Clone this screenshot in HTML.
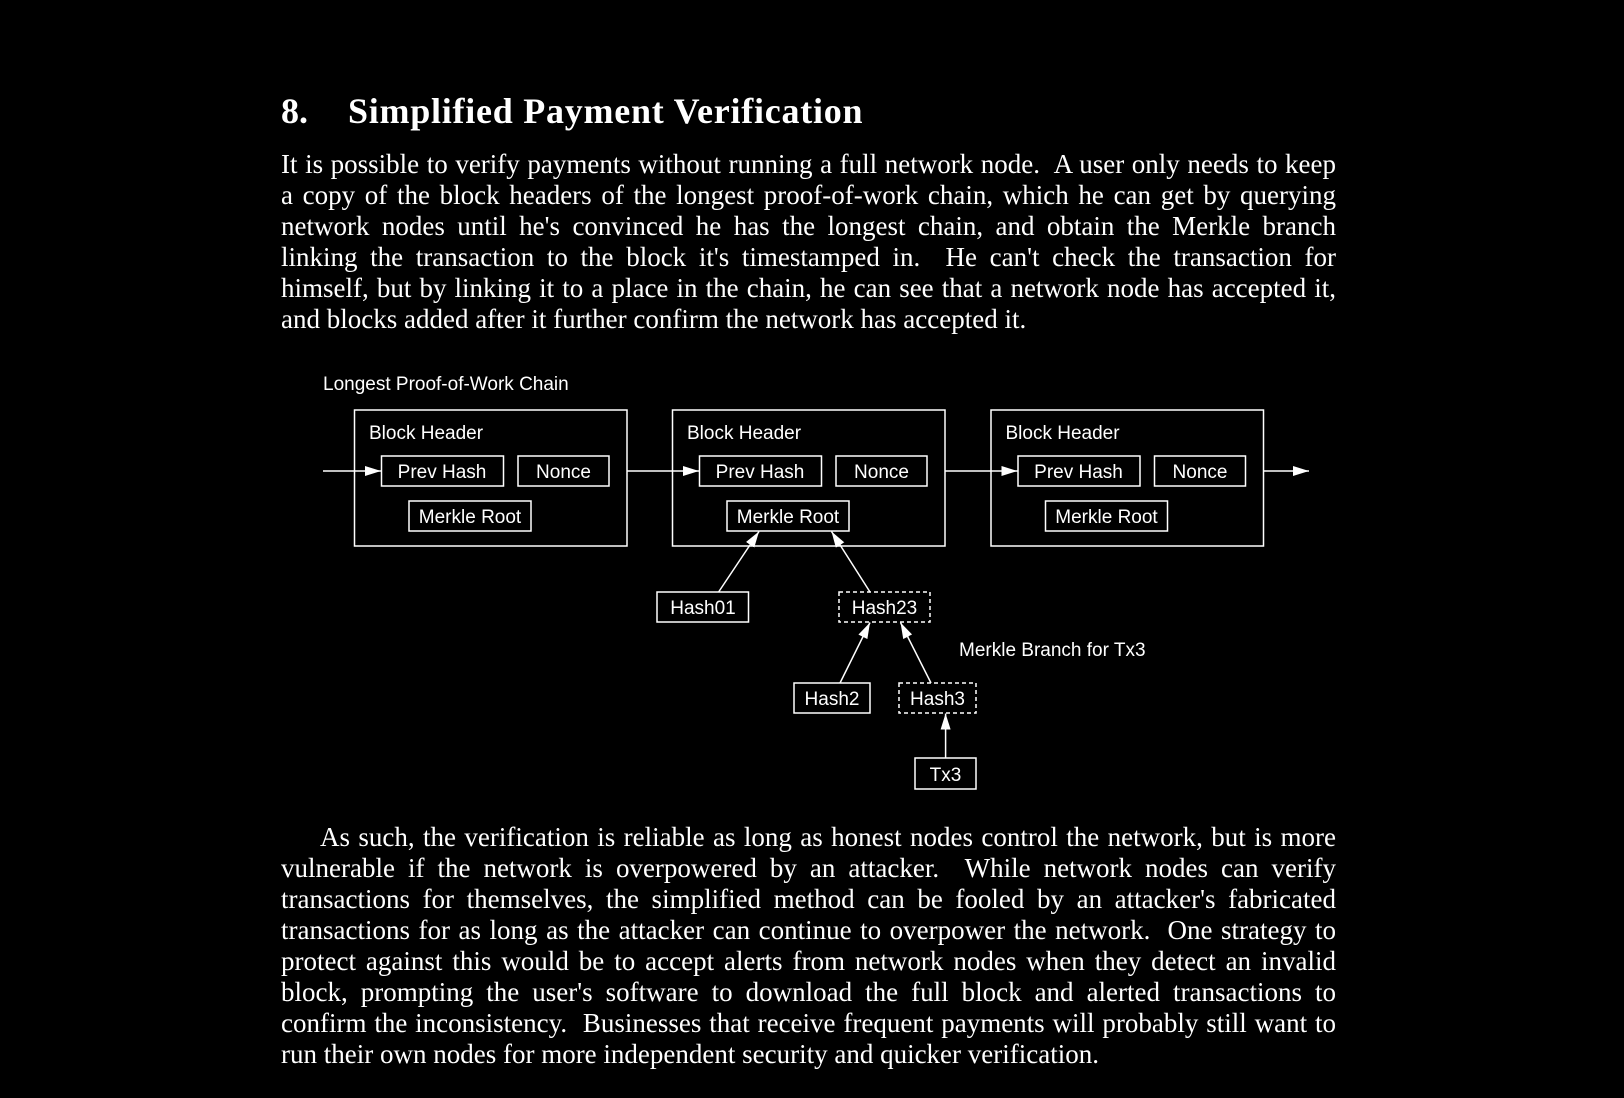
<!DOCTYPE html>
<html><head><meta charset="utf-8"><style>
html,body{margin:0;padding:0;background:#000;}
body{width:1624px;height:1098px;position:relative;overflow:hidden;color:#fff;font-family:"Liberation Serif",serif;}
.t{position:absolute;left:281px;top:91px;font-size:36px;font-weight:bold;white-space:nowrap;line-height:40px;}
.l{position:absolute;left:281px;width:1055px;font-size:27px;line-height:31px;white-space:nowrap;text-align:justify;text-align-last:justify;}
.l.e{text-align-last:left;}
svg{position:absolute;left:0;top:0;}
svg text{font-family:"Liberation Sans",sans-serif;fill:#fff;font-size:19px;}
</style></head><body>
<div class="t">8.<span style="position:absolute;left:67px;letter-spacing:0.75px">Simplified Payment Verification</span></div>
<div class="l" style="top:149px">It is possible to verify payments without running a full network node.&nbsp; A user only needs to keep</div>
<div class="l" style="top:180px">a copy of the block headers of the longest proof-of-work chain, which he can get by querying</div>
<div class="l" style="top:211px">network nodes until he's convinced he has the longest chain, and obtain the Merkle branch</div>
<div class="l" style="top:242px">linking the transaction to the block it's timestamped in.&nbsp; He can't check the transaction for</div>
<div class="l" style="top:273px">himself, but by linking it to a place in the chain, he can see that a network node has accepted it,</div>
<div class="l e" style="top:304px">and blocks added after it further confirm the network has accepted it.</div>

<div class="l" style="top:822px;left:320px;width:1016px">As such, the verification is reliable as long as honest nodes control the network, but is more</div>
<div class="l" style="top:853px">vulnerable if the network is overpowered by an attacker.&nbsp; While network nodes can verify</div>
<div class="l" style="top:884px">transactions for themselves, the simplified method can be fooled by an attacker's fabricated</div>
<div class="l" style="top:915px">transactions for as long as the attacker can continue to overpower the network.&nbsp; One strategy to</div>
<div class="l" style="top:946px">protect against this would be to accept alerts from network nodes when they detect an invalid</div>
<div class="l" style="top:977px">block, prompting the user's software to download the full block and alerted transactions to</div>
<div class="l" style="top:1008px">confirm the inconsistency.&nbsp; Businesses that receive frequent payments will probably still want to</div>
<div class="l e" style="top:1039px">run their own nodes for more independent security and quicker verification.</div>

<svg width="1624" height="1098" viewBox="0 0 1624 1098">
<defs><marker id="a" markerWidth="16" markerHeight="10" refX="16" refY="5" orient="auto" markerUnits="userSpaceOnUse"><path d="M0,0 L16,5 L0,10 Z" fill="#fff"/></marker></defs>
<g stroke="#fff" stroke-width="1.5" fill="none">
<g id="b1">
<rect x="354.5" y="410" width="272.5" height="136"/>
<rect x="381.5" y="456" width="122" height="30"/>
<rect x="518" y="456" width="91" height="30"/>
<rect x="409" y="501" width="122" height="30"/>
</g>
<use href="#b1" x="318"/>
<use href="#b1" x="636.5"/>
<line x1="323" y1="471" x2="381" y2="471" marker-end="url(#a)"/>
<line x1="627" y1="471" x2="699" y2="471" marker-end="url(#a)"/>
<line x1="945.5" y1="471" x2="1017.5" y2="471" marker-end="url(#a)"/>
<line x1="1264" y1="471" x2="1309" y2="471" marker-end="url(#a)"/>
<rect x="657" y="592" width="91.5" height="30"/>
<rect x="839" y="592" width="91" height="30" stroke-dasharray="4,3"/>
<rect x="794" y="683" width="76" height="30"/>
<rect x="899" y="683" width="77" height="30" stroke-dasharray="4,3"/>
<rect x="915" y="758" width="61" height="31"/>
<line x1="718.6" y1="592" x2="759" y2="531.5" marker-end="url(#a)"/>
<line x1="870" y1="592" x2="831.5" y2="531.5" marker-end="url(#a)"/>
<line x1="840" y1="683" x2="870" y2="622.5" marker-end="url(#a)"/>
<line x1="931" y1="683" x2="900.5" y2="622.5" marker-end="url(#a)"/>
<line x1="945.6" y1="758" x2="945.6" y2="713.5" marker-end="url(#a)"/>
</g>
<text x="323" y="390">Longest Proof-of-Work Chain</text>
<g id="t1">
<text x="369" y="439">Block Header</text>
<text x="442" y="478" text-anchor="middle">Prev Hash</text>
<text x="563.5" y="478" text-anchor="middle">Nonce</text>
<text x="470" y="523" text-anchor="middle">Merkle Root</text>
</g>
<use href="#t1" x="318"/>
<use href="#t1" x="636.5"/>
<text x="703" y="614" text-anchor="middle">Hash01</text>
<text x="884.5" y="614" text-anchor="middle">Hash23</text>
<text x="832" y="705" text-anchor="middle">Hash2</text>
<text x="937.5" y="705" text-anchor="middle">Hash3</text>
<text x="945.5" y="781" text-anchor="middle">Tx3</text>
<text x="959" y="656">Merkle Branch for Tx3</text>
</svg>
</body></html>
